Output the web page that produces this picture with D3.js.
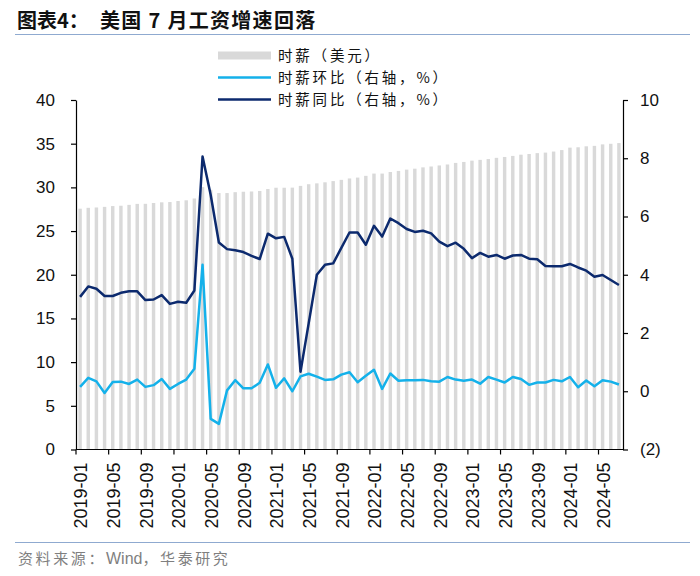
<!DOCTYPE html>
<html><head><meta charset="utf-8">
<script src="https://cdn.jsdelivr.net/npm/d3@7"></script>
<style>body{margin:0;background:#fff}svg{display:block}</style>
</head><body><svg id="c" width="700" height="576"></svg>
<script>
// ---------------- data ----------------
const months = [
 "2019-01","2019-02","2019-03","2019-04","2019-05","2019-06","2019-07","2019-08","2019-09","2019-10","2019-11","2019-12",
 "2020-01","2020-02","2020-03","2020-04","2020-05","2020-06","2020-07","2020-08","2020-09","2020-10","2020-11","2020-12",
 "2021-01","2021-02","2021-03","2021-04","2021-05","2021-06","2021-07","2021-08","2021-09","2021-10","2021-11","2021-12",
 "2022-01","2022-02","2022-03","2022-04","2022-05","2022-06","2022-07","2022-08","2022-09","2022-10","2022-11","2022-12",
 "2023-01","2023-02","2023-03","2023-04","2023-05","2023-06","2023-07","2023-08","2023-09","2023-10","2023-11","2023-12",
 "2024-01","2024-02","2024-03","2024-04","2024-05","2024-06","2024-07"];
// 时薪（美元）
const hourlyWage = [
 27.56,27.66,27.70,27.77,27.86,27.90,28.00,28.11,28.12,28.21,28.29,28.32,
 28.44,28.52,28.73,30.03,29.72,29.35,29.35,29.45,29.50,29.53,29.59,29.81,
 29.96,29.96,29.97,30.17,30.36,30.46,30.58,30.72,30.86,31.02,31.12,31.32,
 31.58,31.58,31.76,31.88,32.03,32.14,32.29,32.39,32.51,32.62,32.80,32.91,
 33.06,33.15,33.24,33.38,33.48,33.60,33.74,33.82,33.92,33.98,34.10,34.27,
 34.55,34.59,34.70,34.75,34.92,34.99,35.07];
// 时薪环比（右轴，%）
const wageMoM = [
 0.15,0.46,0.34,-0.06,0.32,0.33,0.25,0.40,0.15,0.21,0.42,0.08,
 0.25,0.40,0.77,4.34,-0.95,-1.12,0.03,0.38,0.10,0.10,0.29,0.92,
 0.12,0.44,0.00,0.51,0.60,0.50,0.39,0.41,0.57,0.65,0.31,0.53,
 0.74,0.08,0.61,0.36,0.38,0.38,0.39,0.34,0.33,0.49,0.40,0.36,
 0.40,0.26,0.49,0.40,0.30,0.49,0.42,0.22,0.30,0.30,0.39,0.34,
 0.49,0.14,0.37,0.17,0.38,0.33,0.23];
// 时薪同比（右轴，%）
const wageYoY = [
 3.24,3.60,3.52,3.27,3.27,3.38,3.43,3.43,3.13,3.15,3.30,3.00,
 3.07,3.04,3.46,8.06,6.74,5.11,4.88,4.84,4.78,4.65,4.54,5.41,
 5.25,5.30,4.55,0.67,2.33,4.00,4.34,4.39,4.92,5.45,5.45,5.03,
 5.68,5.31,5.93,5.77,5.57,5.47,5.51,5.42,5.14,4.98,5.10,4.89,
 4.57,4.75,4.62,4.68,4.55,4.66,4.68,4.55,4.53,4.30,4.29,4.29,
 4.37,4.25,4.14,3.93,3.99,3.82,3.65];
const xTickLabels = ["2019-01","2019-05","2019-09","2020-01","2020-05","2020-09","2021-01","2021-05","2021-09",
 "2022-01","2022-05","2022-09","2023-01","2023-05","2023-09","2024-01","2024-05"];
const leftTicks = [0,5,10,15,20,25,30,35,40];
const rightTicks = [-2,0,2,4,6,8,10];
const seriesNames = ["时薪（美元）","时薪环比（右轴，%）","时薪同比（右轴，%）"];

// ---------------- drawing ----------------
const svg = d3.select("#c");
const FONT = "'Liberation Sans', Arial, sans-serif";
const CJK = "'Noto Sans CJK SC', 'Noto Sans', sans-serif";
const C_BAR = "#d9d9d9", C_MOM = "#14b1ea", C_YOY = "#0c2a6e", C_RULE = "#8faad0";
const X0 = 76, X1 = 623, YT = 100, YB = 449.5;

// title
svg.append("text").attr("x",17).attr("y",28).text("图表4：")
  .attr("font-family",CJK).attr("font-weight",700).attr("font-size",20).attr("fill","#111");
svg.append("text").attr("x",100).attr("y",28).text("美国 7 月工资增速回落")
  .attr("font-family",CJK).attr("font-weight",700).attr("font-size",20).attr("letter-spacing",1.3).attr("fill","#111");
svg.append("line").attr("x1",15).attr("x2",690).attr("y1",34.5).attr("y2",34.5).attr("stroke",C_RULE).attr("stroke-width",1.2);
svg.append("line").attr("x1",15).attr("x2",690).attr("y1",542.5).attr("y2",542.5).attr("stroke",C_RULE).attr("stroke-width",1.2);
const src = svg.append("text").attr("x",18).attr("y",564)
  .attr("font-family",CJK).attr("font-size",15).attr("fill","#7f7f7f");
src.append("tspan").attr("letter-spacing",2.6).text("资料来源：");
src.append("tspan").attr("font-family",FONT).attr("font-size",16).text("Wind");
src.append("tspan").attr("letter-spacing",2.6).text("，华泰研究");

const x = d3.scaleBand().domain(months).range([X0,X1]).padding(0);
const yL = d3.scaleLinear().domain([0,40]).range([YB,YT]);
const yR = d3.scaleLinear().domain([-2,10]).range([YB,YT]);
const step = x.bandwidth();
const barW = step*0.42;
const cx = d => x(d) + step/2;

// bars
svg.append("g").selectAll("rect").data(months).join("rect")
  .attr("x", d => cx(d) - barW/2).attr("width", barW)
  .attr("y", (d,i) => yL(hourlyWage[i]))
  .attr("height", (d,i) => yL(0) - yL(hourlyWage[i]))
  .attr("fill", C_BAR);

// lines
const line = d3.line().x((v,i) => cx(months[i])).y(v => yR(v));
svg.append("path").datum(wageMoM).attr("d", line).attr("fill","none")
  .attr("stroke",C_MOM).attr("stroke-width",2.5).attr("stroke-linejoin","round");
svg.append("path").datum(wageYoY).attr("d", line).attr("fill","none")
  .attr("stroke",C_YOY).attr("stroke-width",2.5).attr("stroke-linejoin","round");

// left axis
const gL = svg.append("g").attr("transform",`translate(${X0},0)`)
  .call(d3.axisLeft(yL).tickValues(leftTicks).tickSize(5).tickSizeOuter(0).tickPadding(16));
// right axis
const gR = svg.append("g").attr("transform",`translate(${X1},0)`)
  .call(d3.axisRight(yR).tickValues(rightTicks).tickSize(5).tickSizeOuter(0).tickPadding(12)
    .tickFormat(d => d < 0 ? `(${-d})` : d));
[gL,gR].forEach(g => {
  g.selectAll("path.domain").attr("stroke","#000").attr("stroke-width",1.2);
  g.selectAll(".tick line").attr("stroke","#000").attr("stroke-width",1.2);
  g.selectAll(".tick text").attr("font-family",FONT).attr("font-size",17).attr("fill","#111");
});

// bottom axis
const gB = svg.append("g");
gB.append("line").attr("x1",X0).attr("x2",X1).attr("y1",YB).attr("y2",YB).attr("stroke","#000").attr("stroke-width",1.2);
gB.selectAll("line.tk").data(xTickLabels).join("line").attr("class","tk")
  .attr("x1", d => x(d)).attr("x2", d => x(d)).attr("y1",YB).attr("y2",YB+5)
  .attr("stroke","#000").attr("stroke-width",1.2);
gB.selectAll("text").data(xTickLabels).join("text")
  .attr("transform", d => `translate(${cx(d)+1},${YB+13}) rotate(-90)`)
  .attr("text-anchor","end").attr("dy","0.35em")
  .attr("font-family",FONT).attr("font-size",18).attr("fill","#111").text(d => d);

// legend
const lg = svg.append("g");
const LX = 218, LW = 53, TX = 278, rows = [55.5, 77.5, 99.5];
lg.append("rect").attr("x",LX).attr("y",rows[0]-4).attr("width",LW).attr("height",8).attr("fill",C_BAR);
lg.append("line").attr("x1",LX).attr("x2",LX+LW).attr("y1",rows[1]).attr("y2",rows[1]).attr("stroke",C_MOM).attr("stroke-width",2.5);
lg.append("line").attr("x1",LX).attr("x2",LX+LW).attr("y1",rows[2]).attr("y2",rows[2]).attr("stroke",C_YOY).attr("stroke-width",2.5);
lg.selectAll("text").data(seriesNames).join("text")
  .attr("x",TX).attr("y",(d,i) => rows[i]).attr("dy","0.36em")
  .attr("font-family",CJK).attr("font-size",14.5).attr("letter-spacing",2.8).attr("fill","#111").text(d => d);
</script>
</body></html>
